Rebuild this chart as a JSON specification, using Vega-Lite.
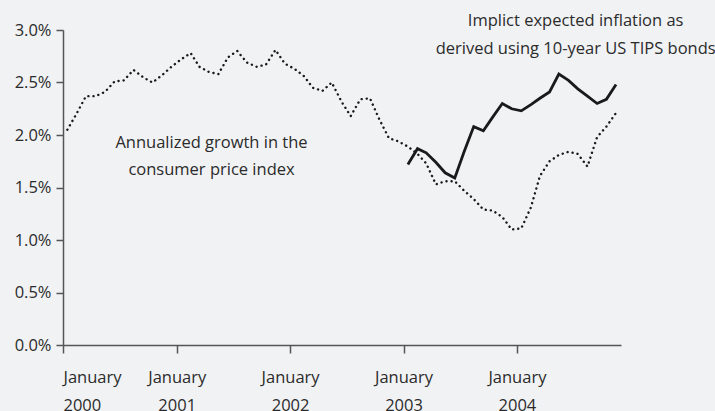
{
  "$schema": "https://vega.github.io/schema/vega-lite/v6.json",
  "autosize": {"type": "none"},
  "padding": {"left": 63, "top": 30, "right": 94, "bottom": 66},
  "width": 558,
  "height": 315,
  "background": "#f1f2f4",
  "config": {
    "view": {"stroke": null},
    "font": "Open Sans",
    "axis": {
      "grid": false,
      "domainColor": "#555555",
      "domainWidth": 1.5,
      "tickColor": "#555555",
      "tickWidth": 1.5,
      "tickSize": 7,
      "labelFont": "Open Sans",
      "labelFontSize": 16.5,
      "labelColor": "#2b2b2b",
      "title": null
    }
  },
  "datasets": {
    "cpi": [
      {"date": "2000-01-15", "value": 2.05}, {"date": "2000-02-15", "value": 2.21}, {"date": "2000-03-15", "value": 2.37},
      {"date": "2000-04-15", "value": 2.37}, {"date": "2000-05-15", "value": 2.41}, {"date": "2000-06-15", "value": 2.51},
      {"date": "2000-07-15", "value": 2.52}, {"date": "2000-08-15", "value": 2.62}, {"date": "2000-09-15", "value": 2.55},
      {"date": "2000-10-15", "value": 2.50}, {"date": "2000-11-15", "value": 2.57}, {"date": "2000-12-15", "value": 2.65},
      {"date": "2001-01-15", "value": 2.72}, {"date": "2001-02-15", "value": 2.78}, {"date": "2001-03-15", "value": 2.65},
      {"date": "2001-04-15", "value": 2.60}, {"date": "2001-05-15", "value": 2.58}, {"date": "2001-06-15", "value": 2.74},
      {"date": "2001-07-15", "value": 2.80}, {"date": "2001-08-15", "value": 2.69}, {"date": "2001-09-15", "value": 2.65},
      {"date": "2001-10-15", "value": 2.67}, {"date": "2001-11-15", "value": 2.81}, {"date": "2001-12-15", "value": 2.68},
      {"date": "2002-01-15", "value": 2.63}, {"date": "2002-02-15", "value": 2.56}, {"date": "2002-03-15", "value": 2.45},
      {"date": "2002-04-15", "value": 2.42}, {"date": "2002-05-15", "value": 2.50}, {"date": "2002-06-15", "value": 2.32},
      {"date": "2002-07-15", "value": 2.18}, {"date": "2002-08-15", "value": 2.34}, {"date": "2002-09-15", "value": 2.35},
      {"date": "2002-10-15", "value": 2.15}, {"date": "2002-11-15", "value": 1.97}, {"date": "2002-12-15", "value": 1.94},
      {"date": "2003-01-15", "value": 1.89}, {"date": "2003-02-15", "value": 1.82}, {"date": "2003-03-15", "value": 1.73},
      {"date": "2003-04-15", "value": 1.53}, {"date": "2003-05-15", "value": 1.56}, {"date": "2003-06-15", "value": 1.56},
      {"date": "2003-07-15", "value": 1.47}, {"date": "2003-08-15", "value": 1.39}, {"date": "2003-09-15", "value": 1.29},
      {"date": "2003-10-15", "value": 1.28}, {"date": "2003-11-15", "value": 1.22}, {"date": "2003-12-15", "value": 1.10},
      {"date": "2004-01-15", "value": 1.11}, {"date": "2004-02-15", "value": 1.31}, {"date": "2004-03-15", "value": 1.61},
      {"date": "2004-04-15", "value": 1.75}, {"date": "2004-05-15", "value": 1.81}, {"date": "2004-06-15", "value": 1.84},
      {"date": "2004-07-15", "value": 1.82}, {"date": "2004-08-15", "value": 1.70}, {"date": "2004-09-15", "value": 1.98},
      {"date": "2004-10-15", "value": 2.08}, {"date": "2004-11-15", "value": 2.21}
    ],
    "tips": [
      {"date": "2003-01-15", "value": 1.72}, {"date": "2003-02-15", "value": 1.87}, {"date": "2003-03-15", "value": 1.83},
      {"date": "2003-04-15", "value": 1.74}, {"date": "2003-05-15", "value": 1.64}, {"date": "2003-06-15", "value": 1.59},
      {"date": "2003-07-15", "value": 1.84}, {"date": "2003-08-15", "value": 2.08}, {"date": "2003-09-15", "value": 2.04},
      {"date": "2003-10-15", "value": 2.17}, {"date": "2003-11-15", "value": 2.30}, {"date": "2003-12-15", "value": 2.25},
      {"date": "2004-01-15", "value": 2.23}, {"date": "2004-02-15", "value": 2.29}, {"date": "2004-03-15", "value": 2.35},
      {"date": "2004-04-15", "value": 2.41}, {"date": "2004-05-15", "value": 2.58}, {"date": "2004-06-15", "value": 2.52},
      {"date": "2004-07-15", "value": 2.44}, {"date": "2004-08-15", "value": 2.37}, {"date": "2004-09-15", "value": 2.30},
      {"date": "2004-10-15", "value": 2.34}, {"date": "2004-11-15", "value": 2.48}
    ],
    "notes": [
      {"date": "2001-04-23", "value": 1.873, "text": "Annualized growth in the"},
      {"date": "2001-04-23", "value": 1.619, "text": "consumer price index"},
      {"date": "2004-07-08", "value": 3.038, "text": "Implict expected inflation as"},
      {"date": "2004-07-08", "value": 2.771, "text": "derived using 10-year US TIPS bonds"}
    ]
  },
  "encoding": {
    "x": {
      "field": "date", "type": "temporal",
      "scale": {"type": "utc", "domain": [{"year": 2000, "month": 1, "date": 1, "utc": true}, {"year": 2004, "month": 12, "date": 1, "utc": true}]},
      "axis": {
        "values": [
          {"year": 2000, "month": 1, "date": 1, "utc": true},
          {"year": 2001, "month": 1, "date": 1, "utc": true},
          {"year": 2002, "month": 1, "date": 1, "utc": true},
          {"year": 2003, "month": 1, "date": 1, "utc": true},
          {"year": 2004, "month": 1, "date": 1, "utc": true}
        ],
        "labelExpr": "['January', utcFormat(datum.value, '%Y')]",
        "labelLineHeight": 28,
        "labelPadding": 16,
        "tickSize": 8
      }
    },
    "y": {
      "field": "value", "type": "quantitative",
      "scale": {"domain": [0, 3]},
      "axis": {
        "values": [0, 0.5, 1, 1.5, 2, 2.5, 3],
        "labelExpr": "format(datum.value, '.1f') + '%'",
        "labelPadding": 5
      }
    }
  },
  "layer": [
    {
      "data": {"name": "cpi"},
      "mark": {"type": "line", "color": "#1a1a1a", "strokeWidth": 2.4, "strokeCap": "round", "strokeDash": [0.1, 5]}
    },
    {
      "data": {"name": "tips"},
      "mark": {"type": "line", "color": "#1a1a1a", "strokeWidth": 2.8}
    },
    {
      "data": {"name": "notes"},
      "mark": {"type": "text", "font": "Open Sans", "fontSize": 16.5, "color": "#2b2b2b", "baseline": "alphabetic", "align": "center"},
      "encoding": {"text": {"field": "text"}}
    }
  ]
}
